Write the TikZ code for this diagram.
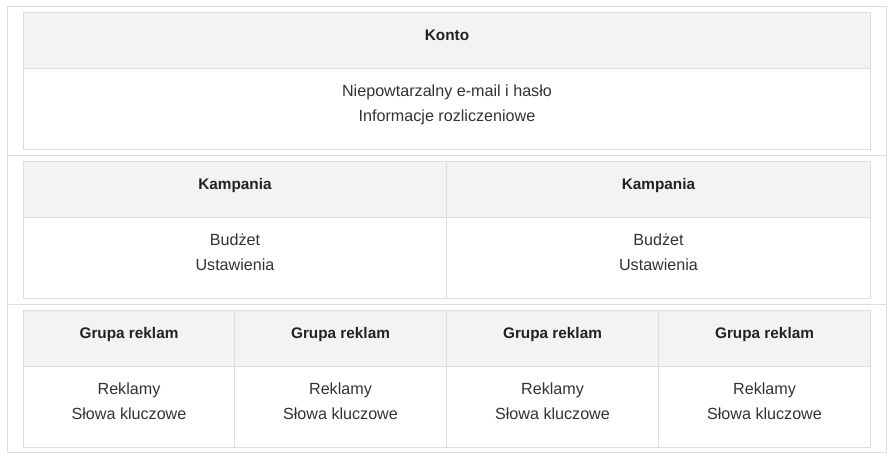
\documentclass[tikz,border=0pt]{standalone}
\usepackage{fontspec}
\setmainfont{Liberation Sans}
\definecolor{bordc}{HTML}{DDDDDD}
\definecolor{hdrfill}{HTML}{F3F3F3}
\definecolor{txtc}{HTML}{333333}
\definecolor{hdrtxt}{HTML}{222222}
\begin{document}
\begin{tikzpicture}[x=0.75pt,y=-0.75pt,
  line width=0.75pt,
  frame/.style={draw=bordc},
  hdrcell/.style={draw=bordc,fill=hdrfill},
  bodycell/.style={draw=bordc,fill=white},
  hdrtext/.style={anchor=base,inner sep=0pt,font=\fontsize{11.5pt}{14pt}\selectfont\bfseries,text=hdrtxt},
  bodytext/.style={anchor=base,inner sep=0pt,font=\fontsize{12.1pt}{14pt}\selectfont,text=txtc}]
\useasboundingbox (0,0) rectangle (891,460);
\fill[white] (0,0) rectangle (891,460);
% outer frame
\draw[frame] (7.5,6.5) rectangle (886.5,452.5);
\draw[frame] (7.5,155.5) -- (886.5,155.5);
\draw[frame] (7.5,304.5) -- (886.5,304.5);
% level 1
\draw[hdrcell] (23.5,12.5) rectangle (870.5,68.5);
\draw[bodycell] (23.5,68.5) rectangle (870.5,149.5);
\node[hdrtext] (konto) at (447,40.8) {Konto};
\node[bodytext] (k1) at (447,96.5) {Niepowtarzalny e-mail i hasło};
\node[bodytext] (k2) at (447,121.5) {Informacje rozliczeniowe};
% level 2
\foreach \a/\b/\c [count=\i] in {23.5/446.5/235,446.5/870.5/658.5}{
  \draw[hdrcell] (\a,161.5) rectangle (\b,217.5);
  \draw[bodycell] (\a,217.5) rectangle (\b,298.5);
  \node[hdrtext] (kamp\i) at (\c,189.8) {Kampania};
  \node[bodytext] (bud\i) at (\c,245.5) {Budżet};
  \node[bodytext] (ust\i) at (\c,270.5) {Ustawienia};
}
% level 3
\foreach \a/\b/\c [count=\i] in {23.5/234.5/129,234.5/446.5/340.5,446.5/658.5/552.5,658.5/870.5/764.5}{
  \draw[hdrcell] (\a,310.5) rectangle (\b,366.5);
  \draw[bodycell] (\a,366.5) rectangle (\b,447.5);
  \node[hdrtext] (gr\i) at (\c,338.6) {Grupa reklam};
  \node[bodytext] (rek\i) at (\c,394.3) {Reklamy};
  \node[bodytext] (slo\i) at (\c,419.3) {Słowa kluczowe};
}
\end{tikzpicture}
\end{document}
